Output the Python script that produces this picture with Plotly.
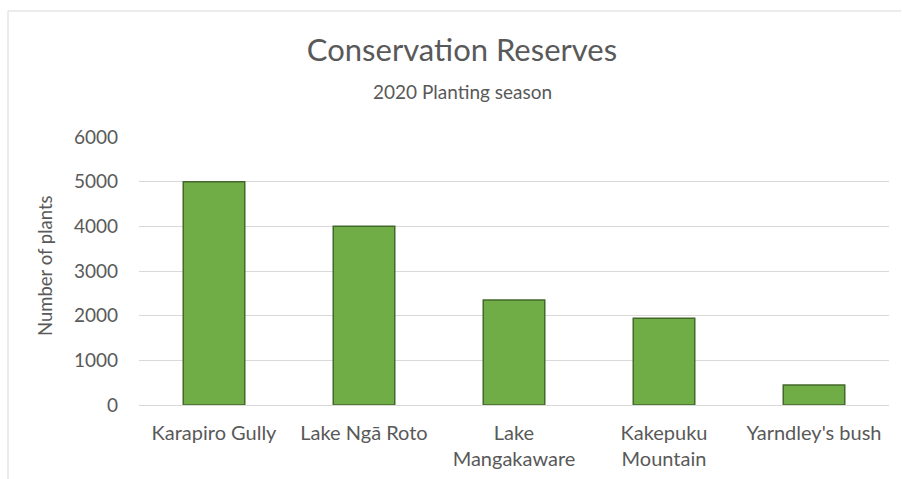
import plotly.graph_objects as go

categories = ["Karapiro Gully", "Lake Ngā Roto", "Lake<br>Mangakaware", "Kakepuku<br>Mountain", "Yarndley's bush"]
plants = [5000, 4000, 2350, 1940, 450]
y_ticks = [0, 1000, 2000, 3000, 4000, 5000, 6000]

FONT = "Lato"
TXT = "#595959"
GRID = "#D9D9D9"

fig = go.Figure(go.Bar(
    x=categories, y=plants, width=0.41,
    marker=dict(color="#70AD47", line=dict(color="#43682B", width=1.5)),
))

L, R, T, B = 139, 13, 137, 74
W, H = 902, 479
ph = H - T - B
pw = W - L - R

def py(pix):
    return (H - B - pix) / ph

def px(pix):
    return (pix - L) / pw

fig.update_layout(
    width=W, height=H,
    margin=dict(l=L, r=R, t=T, b=B),
    paper_bgcolor="white", plot_bgcolor="white",
    showlegend=False,
    font=dict(family=FONT, color=TXT),
    title=dict(text="Conservation Reserves", x=462 / W, xanchor="center", xref="container",
               y=1 - 50 / H, yanchor="middle", yref="container",
               font=dict(family=FONT, size=31, color=TXT)),
    xaxis=dict(showgrid=False, showline=False, ticks="", automargin=False,
               tickfont=dict(family=FONT, size=20, color=TXT),
               ticklabelstandoff=14),
    yaxis=dict(range=[0, 6000], tickvals=y_ticks, showgrid=True, gridcolor=GRID,
               gridwidth=1, zeroline=True, zerolinecolor=GRID, zerolinewidth=1,
               showline=False, ticks="", automargin=False,
               tickfont=dict(family=FONT, size=19, color=TXT),
               ticklabelstandoff=20),
    annotations=[
        dict(text="2020 Planting season", x=px(462), xref="paper", y=py(92), yref="paper",
             xanchor="center", yanchor="middle", showarrow=False,
             font=dict(family=FONT, size=19, color=TXT)),
        dict(text="Number of plants", x=px(45), xref="paper", y=py(266), yref="paper",
             xanchor="center", yanchor="middle", textangle=-90, showarrow=False,
             font=dict(family=FONT, size=18.5, color=TXT)),
    ],
    shapes=[
        dict(type="line", xref="paper", yref="paper", x0=px(8), x1=px(8), y0=py(479), y1=py(11),
             line=dict(color=GRID, width=1)),
        dict(type="line", xref="paper", yref="paper", x0=px(8), x1=px(901), y0=py(11), y1=py(11),
             line=dict(color=GRID, width=1)),
    ],
)

fig.write_html("out.html")
